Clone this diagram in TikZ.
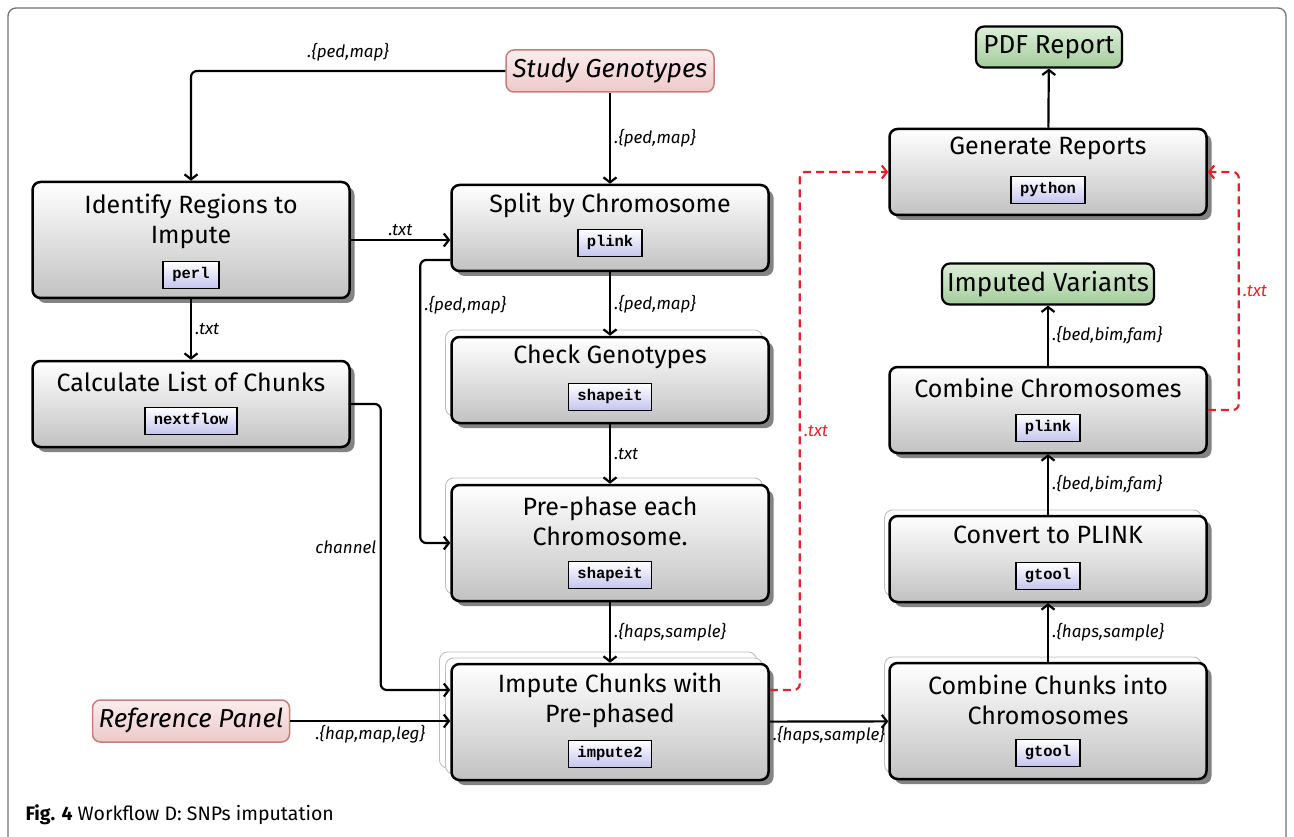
\documentclass[tikz,border=0pt]{standalone}
\usepackage{fontspec}
\setmainfont{Fira Sans}
\setmonofont{Liberation Mono}
\usepackage{xcolor}
\usepackage{tikz}
\usetikzlibrary{arrows.meta,shadows}

\definecolor{toolblue}{HTML}{C4C4EE}
\definecolor{pinktop}{HTML}{FBEDED}
\definecolor{pinkbot}{HTML}{EDC9C9}
\definecolor{pinkline}{HTML}{C47E7E}
\definecolor{greentop}{HTML}{DCEFD8}
\definecolor{greenbot}{HTML}{A3CC9B}
\definecolor{flowred}{HTML}{E8202A}

\begin{document}
\begin{tikzpicture}[x=1pt, y=-1pt,
    proc/.style={draw, line width=2.5pt, rounded corners=8pt, minimum width=317pt, minimum height=86pt,
        top color=white, bottom color=black!24,
        drop shadow={shadow xshift=5pt, shadow yshift=-5pt, fill=black!65, opacity=0.75}},
    ghost/.style={draw=black!25, line width=0.9pt, rounded corners=8pt, fill=white,
        minimum width=317pt, minimum height=86pt},
    ttl/.style={align=center, font=\fontsize{25}{30}\selectfont},
    tool/.style={draw, line width=1.8pt, top color=white, bottom color=toolblue,
        inner xsep=9pt, inner ysep=7pt, text height=10pt, text depth=3pt,
        font=\fontsize{15.5}{15.5}\selectfont\ttfamily\bfseries},
    data/.style={draw=pinkline, line width=1.5pt, rounded corners=8pt, top color=pinktop, bottom color=pinkbot,
        minimum height=42pt, font=\fontsize{26}{26}\selectfont\itshape},
    result/.style={draw, line width=2.2pt, rounded corners=8pt, top color=greentop, bottom color=greenbot,
        minimum height=41pt, font=\fontsize{26}{26}\selectfont},
    lbl/.style={font=\fontsize{17}{17}\selectfont\itshape},
    flow/.style={line width=2.2pt, rounded corners=6pt, -{Straight Barb[length=5pt,width=13pt]}},
    rflow/.style={flow, flowred, dash pattern=on 8pt off 5pt}]
    \useasboundingbox (0,0) rectangle (1294,837);
    \draw[black!55, line width=1.3pt, rounded corners=8pt] (8,850) -- (8,8) -- (1286,8) -- (1286,850);

    % inputs and outputs
    \node[data, minimum width=208pt] (sg) at (610,71) {Study Genotypes};
    \node[data, minimum width=197pt] (ref) at (191,721) {Reference Panel};
    \node[result, minimum width=146pt] (pdf) at (1049,47) {PDF Report};
    \node[result, minimum width=212pt] (iv) at (1048,284) {Imputed Variants};

    % left column
    \node[proc, minimum height=116pt] (ident) at (191,240) {};
    \node[ttl] (identL) at (191,221) {Identify Regions to\\Impute};
    \node[tool] (identT) at (191,275) {perl};
    \node[proc] (calc) at (191,404) {};
    \node[ttl] (calcL) at (191,382) {Calculate List of Chunks};
    \node[tool] (calcT) at (191,421) {nextflow};

    % middle column
    \node[proc] (split) at (610,228) {};
    \node[ttl] (splitL) at (610,205) {Split by Chromosome};
    \node[tool] (splitT) at (610,243) {plink};
    \node[ghost] (checkG) at (604,373) {};
    \node[proc] (check) at (610,380) {};
    \node[ttl] (checkL) at (610,357) {Check Genotypes};
    \node[tool] (checkT) at (610,397) {shapeit};
    \node[ghost, minimum height=116pt] (prepG) at (604,536) {};
    \node[proc, minimum height=116pt] (prep) at (610,543) {};
    \node[ttl] (prepL) at (610,521) {Pre-phase each\\Chromosome.};
    \node[tool] (prepT) at (610,575) {shapeit};
    \node[ghost, minimum height=116pt] (impG2) at (598,710) {};
    \node[ghost, minimum height=116pt] (impG1) at (604,716) {};
    \node[proc, minimum height=116pt] (imp) at (610,722) {};
    \node[ttl] (impL) at (610,700) {Impute Chunks with\\Pre-phased};
    \node[tool] (impT) at (610,754) {impute2};

    % right column
    \node[proc] (gen) at (1048,172) {};
    \node[ttl] (genL) at (1048,148) {Generate Reports};
    \node[tool] (genT) at (1048,190) {python};
    \node[proc] (comchr) at (1048,410) {};
    \node[ttl] (comchrL) at (1048,388) {Combine Chromosomes};
    \node[tool] (comchrT) at (1048,428) {plink};
    \node[ghost] (convG) at (1043,553) {};
    \node[proc] (conv) at (1048,559) {};
    \node[ttl] (convL) at (1048,535) {Convert to PLINK};
    \node[tool] (convT) at (1048,576) {gtool};
    \node[ghost, minimum height=116pt] (comchkG) at (1043,715) {};
    \node[proc, minimum height=116pt] (comchk) at (1048,721) {};
    \node[ttl] (comchkL) at (1048,700) {Combine Chunks into\\Chromosomes};
    \node[tool] (comchkT) at (1048,753) {gtool};

    \node[anchor=west, font=\fontsize{19.5}{19.5}\selectfont] (cap) at (22,815) {\textbf{Fig. 4} Workflow D: SNPs imputation};

    % connectors
    \draw[flow] (sg) -| node[pos=0.25, above=5pt, lbl] {.\{ped,map\}} (ident);
    \draw[flow] (sg) -- node[right, lbl] {.\{ped,map\}} (split);
    \draw[flow] (ident) -- node[above, lbl] {.txt} (ident -| split.west);
    \draw[flow] (ident) -- node[right, lbl] {.txt} (calc);
    \draw[flow] (split) -- node[right, lbl] {.\{ped,map\}} (check);
    \draw[flow] ([yshift=-32pt]split.west) -- ++(-30,0) |- node[pos=0.08, right, lbl] {.\{ped,map\}} (prep.west);
    \draw[flow] (check) -- node[right, lbl] {.txt} (prep);
    \draw[flow] (prep) -- node[right, lbl] {.\{haps,sample\}} (imp);
    \draw[flow] (calc.east) -- ++(30,0) |- node[pos=0.25, left, lbl] {channel} ([yshift=32pt]imp.west);
    \draw[flow] (ref.east) -- node[below, lbl] {.\{hap,map,leg\}} (ref.east -| imp.west);
    \draw[flow] (imp) -- node[below, lbl] {.\{haps,sample\}} (comchk);
    \draw[flow] (comchk) -- node[right, lbl] {.\{haps,sample\}} (conv);
    \draw[flow] (conv) -- node[right, lbl] {.\{bed,bim,fam\}} (comchr);
    \draw[flow] (comchr) -- node[right, lbl] {.\{bed,bim,fam\}} (iv);
    \draw[flow] (gen) -- (pdf);
    \draw[rflow] ([yshift=32pt]imp.east) -- ++(30,0) |- node[pos=0.25, right, lbl, flowred] {.txt} (gen.west);
    \draw[rflow] (comchr.east) -- ++(31,0) |- node[pos=0.25, right, lbl, flowred] {.txt} (gen.east);
\end{tikzpicture}
\end{document}
